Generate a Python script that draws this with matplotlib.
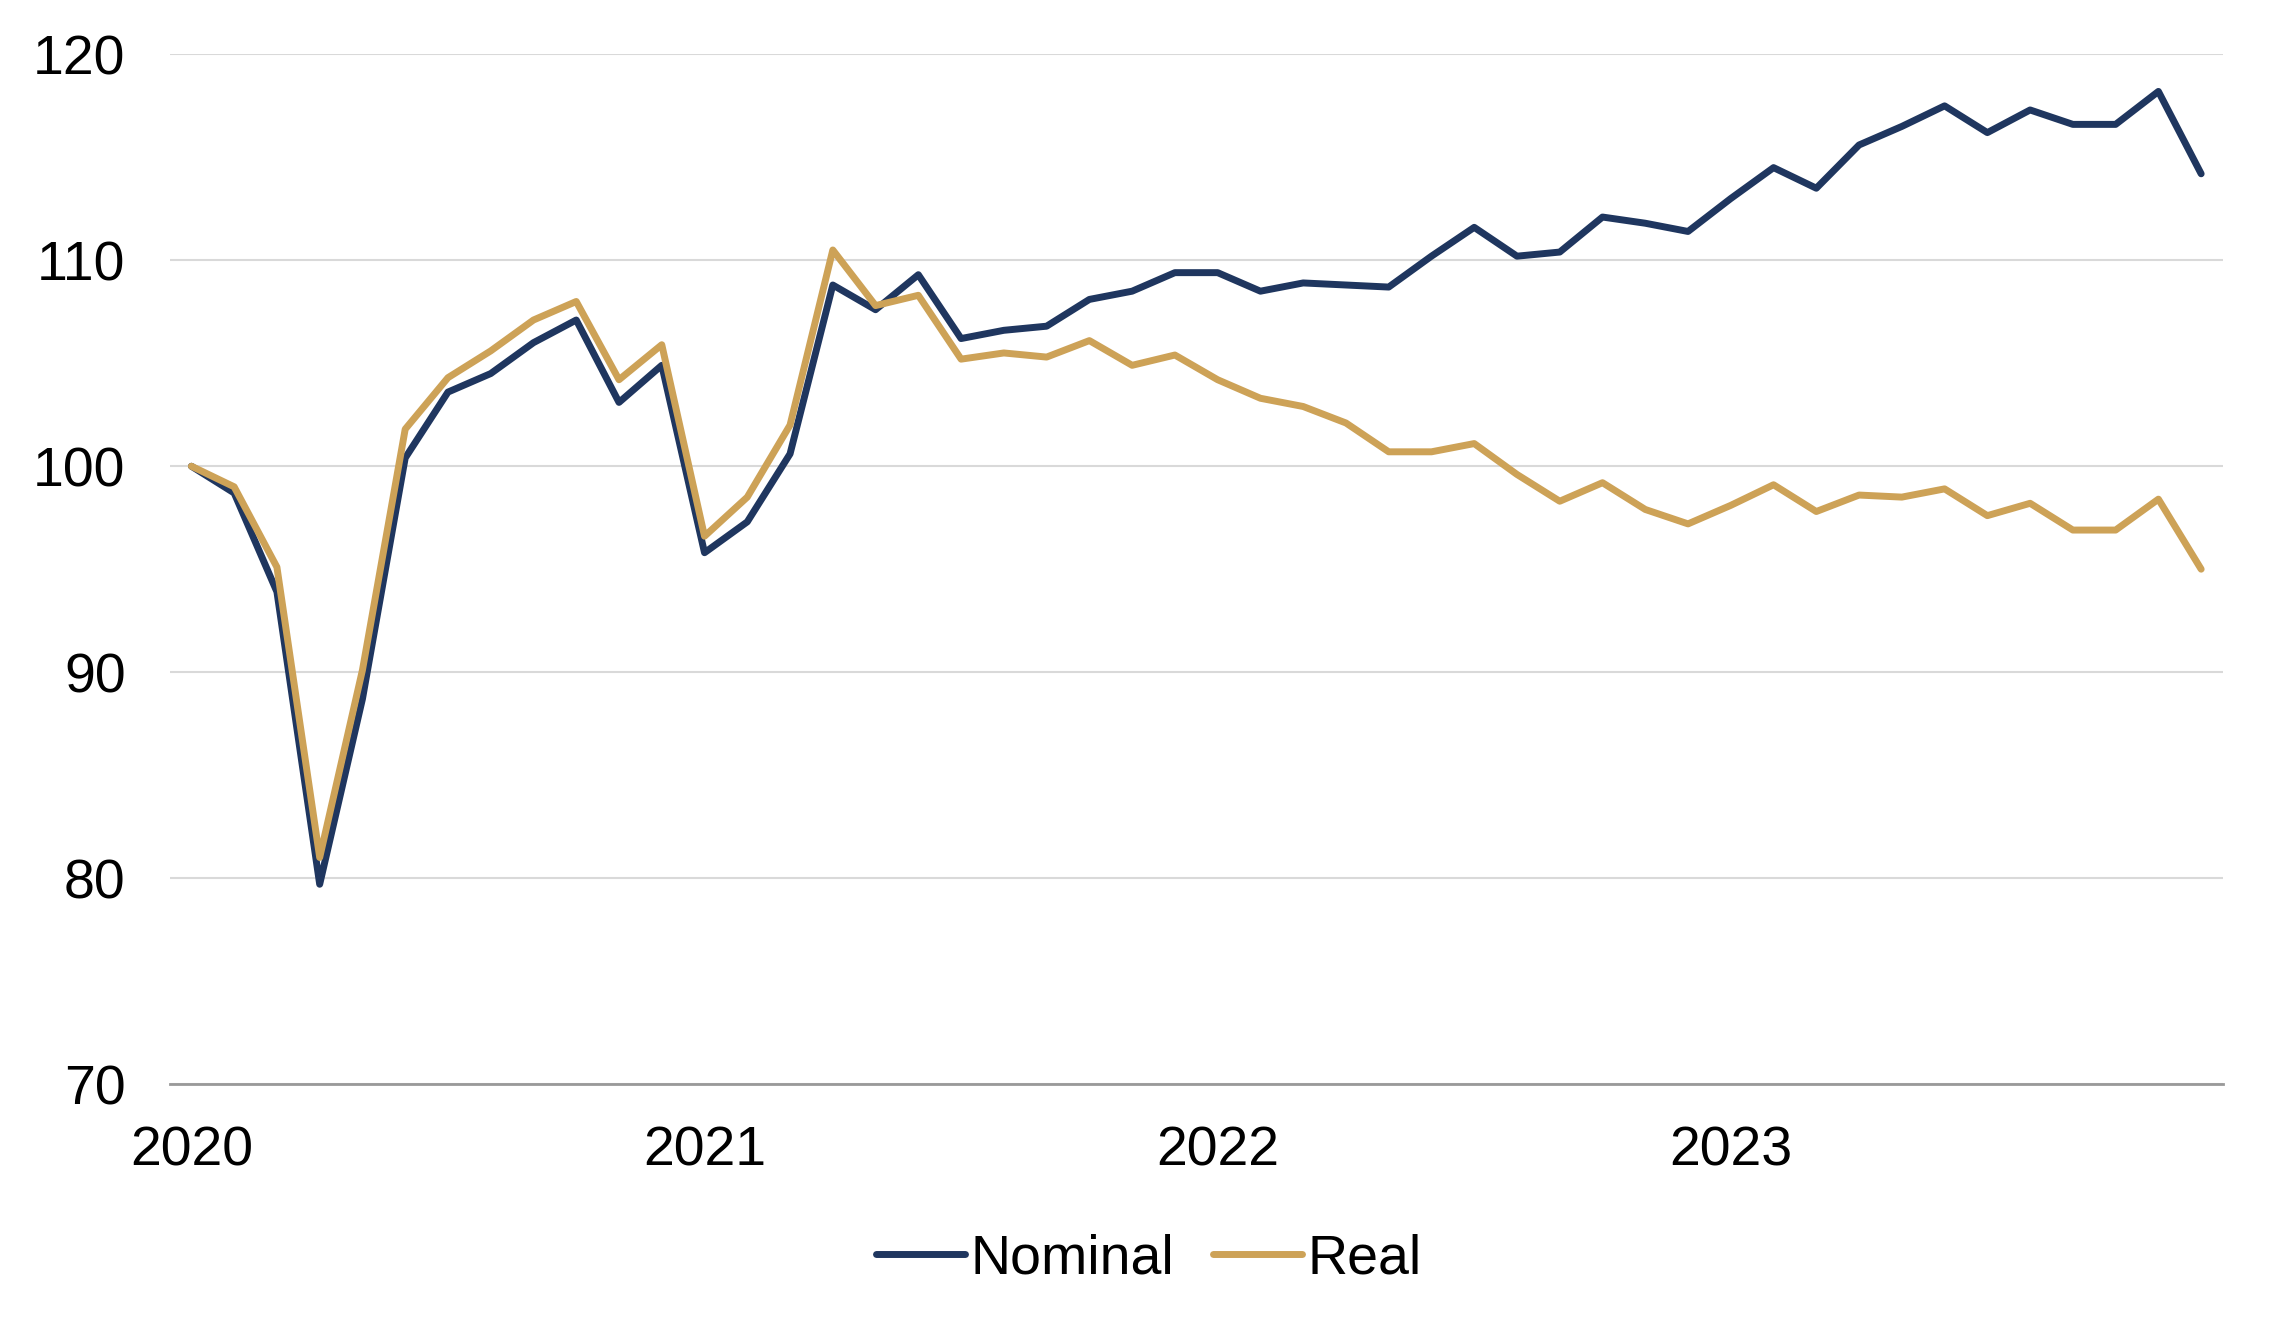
import matplotlib
matplotlib.use("Agg")
import matplotlib.pyplot as plt

plt.rcParams['font.family'] = ['Liberation Sans', 'DejaVu Sans']

# monthly index, Jan 2020 = 100
months = list(range(48))
year_ticks = [0, 12, 24, 36]
year_labels = ['2020', '2021', '2022', '2023']

nominal = [100.0, 98.7, 93.9, 79.7, 88.7, 100.4, 103.6, 104.5, 106.0, 107.1, 103.1, 104.9,
           95.8, 97.3, 100.6, 108.8, 107.6, 109.3, 106.2, 106.6, 106.8, 108.1, 108.5, 109.4,
           109.4, 108.5, 108.9, 108.8, 108.7, 110.2, 111.6, 110.2, 110.4, 112.1, 111.8, 111.4,
           113.0, 114.5, 113.5, 115.6, 116.5, 117.5, 116.2, 117.3, 116.6, 116.6, 118.2, 114.2]
real = [100.0, 99.0, 95.1, 81.0, 90.1, 101.8, 104.3, 105.6, 107.1, 108.0, 104.2, 105.9,
        96.6, 98.5, 102.0, 110.5, 107.8, 108.3, 105.2, 105.5, 105.3, 106.1, 104.9, 105.4,
        104.2, 103.3, 102.9, 102.1, 100.7, 100.7, 101.1, 99.6, 98.3, 99.2, 97.9, 97.2,
        98.1, 99.1, 97.8, 98.6, 98.5, 98.9, 97.6, 98.2, 96.9, 96.9, 98.4, 95.0]

navy = '#1F365F'
gold = '#CDA257'

fig = plt.figure(figsize=(22.73, 13.26), dpi=100)
ax = fig.add_axes([0.0748, 0.1825, 0.903, 0.7765])

ax.plot(months, nominal, color=navy, lw=5, label='Nominal', solid_capstyle='round', solid_joinstyle='round')
ax.plot(months, real, color=gold, lw=5, label='Real', solid_capstyle='round', solid_joinstyle='round')

ax.set_xlim(-0.5, 47.5)
ax.set_ylim(70, 120)
ax.set_yticks([70, 80, 90, 100, 110, 120])
ax.set_xticks(year_ticks)
ax.set_xticklabels(year_labels)

ax.grid(axis='y', color='#D9D9D9', lw=1.5)
ax.set_axisbelow(True)
for s in ['top', 'right', 'left']:
    ax.spines[s].set_visible(False)
ax.spines['bottom'].set_color('#999999')
ax.spines['bottom'].set_linewidth(2)
ax.tick_params(axis='both', length=0, labelsize=40)
ax.tick_params(axis='y', pad=32)
ax.tick_params(axis='x', pad=30)

ax.legend(loc='upper center', bbox_to_anchor=(0.477, -0.097), ncol=2, frameon=False,
          fontsize=40, handlelength=1.6, handletextpad=0.1, columnspacing=0.7)

fig.savefig('out.png', dpi=100)
